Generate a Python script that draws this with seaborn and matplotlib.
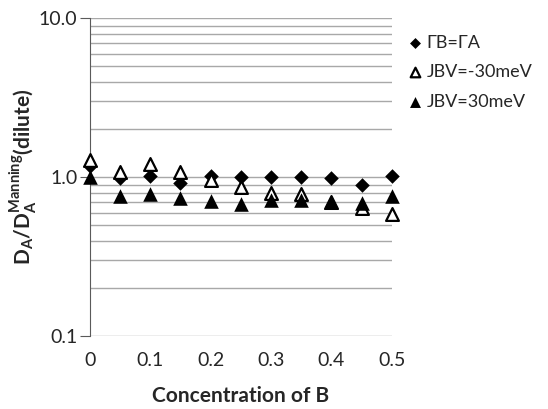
import numpy as np
import matplotlib
matplotlib.use("Agg")
import matplotlib.pyplot as plt
import seaborn as sns
from matplotlib.ticker import FixedLocator, LogLocator, NullFormatter

conc = [0, 0.05, 0.1, 0.15, 0.2, 0.25, 0.3, 0.35, 0.4, 0.45, 0.5]
gamma_equal = [1.18, 0.99, 1.02, 0.92, 1.02, 1.01, 1.01, 1.0, 0.99, 0.90, 1.02]
jbv_minus30 = [1.28, 1.08, 1.22, 1.08, 0.96, 0.87, 0.80, 0.79, 0.70, 0.64, 0.59]
jbv_plus30 = [1.0, 0.76, 0.79, 0.74, 0.71, 0.68, 0.72, 0.72, 0.70, 0.69, 0.76]
labels = ["ΓB=ΓA", "JBV=-30meV", "JBV=30meV"]
yticks = [0.1, 1.0, 10.0]
ytick_labels = ["0.1", "1.0", "10.0"]

sns.set_style("white")
plt.rcParams['font.family'] = ['Lato', 'DejaVu Sans']
plt.rcParams['mathtext.fontset'] = 'custom'
plt.rcParams['mathtext.rm'] = 'Lato'
plt.rcParams['mathtext.bf'] = 'Lato:bold'

fig = plt.figure(figsize=(5.48, 4.09), dpi=100)
ax = fig.add_axes([0.164, 0.178, 0.551, 0.777])

sns.scatterplot(x=conc, y=gamma_equal, marker='D', s=55, color='black',
                linewidth=0, label=labels[0], ax=ax, zorder=3, clip_on=False)
sns.scatterplot(x=conc, y=jbv_minus30, marker='^', s=85, facecolors='white',
                edgecolors='black', linewidths=1.6, label=labels[1], ax=ax,
                zorder=4, clip_on=False)
sns.scatterplot(x=conc, y=jbv_plus30, marker='^', s=110, color='black',
                linewidth=0, label=labels[2], ax=ax, zorder=5, clip_on=False)

ax.set_yscale('log')
ax.set_ylim(0.1, 10)
ax.set_xlim(0, 0.5)
ax.yaxis.set_major_locator(FixedLocator(yticks))
ax.set_yticklabels(ytick_labels)
ax.yaxis.set_minor_locator(LogLocator(base=10, subs=np.arange(2, 10)))
ax.yaxis.set_minor_formatter(NullFormatter())
ax.set_xticks(conc[::2])
ax.set_xticklabels(["0", "0.1", "0.2", "0.3", "0.4", "0.5"])

ax.grid(True, which='both', axis='y', color='#a8a8a8', linewidth=1)
ax.grid(False, axis='x')
for side in ['top', 'right']:
    ax.spines[side].set_visible(False)
ax.spines['bottom'].set_visible(False)
ax.spines['left'].set_color('#5a5a5a')
ax.tick_params(axis='y', which='major', left=True, length=7, color='#5a5a5a',
               labelsize=14, pad=2)
ax.tick_params(axis='y', which='minor', left=False)
ax.tick_params(axis='x', bottom=False, labelsize=14, pad=8)

ax.set_xlabel("Concentration of B", fontsize=15, fontweight='bold', labelpad=12)
ax.set_ylabel(r"$\mathbf{D_A/D_A^{Manning}(dilute)}$", fontsize=15, labelpad=0)

handles, lbls = ax.get_legend_handles_labels()
ax.legend_.remove()
fig.legend(handles, lbls, loc='upper left', bbox_to_anchor=(0.712, 0.955),
           frameon=False, fontsize=13, handletextpad=0.1, labelspacing=0.75,
           handlelength=1.0, markerscale=0.75)

fig.savefig("out.png", dpi=100)
